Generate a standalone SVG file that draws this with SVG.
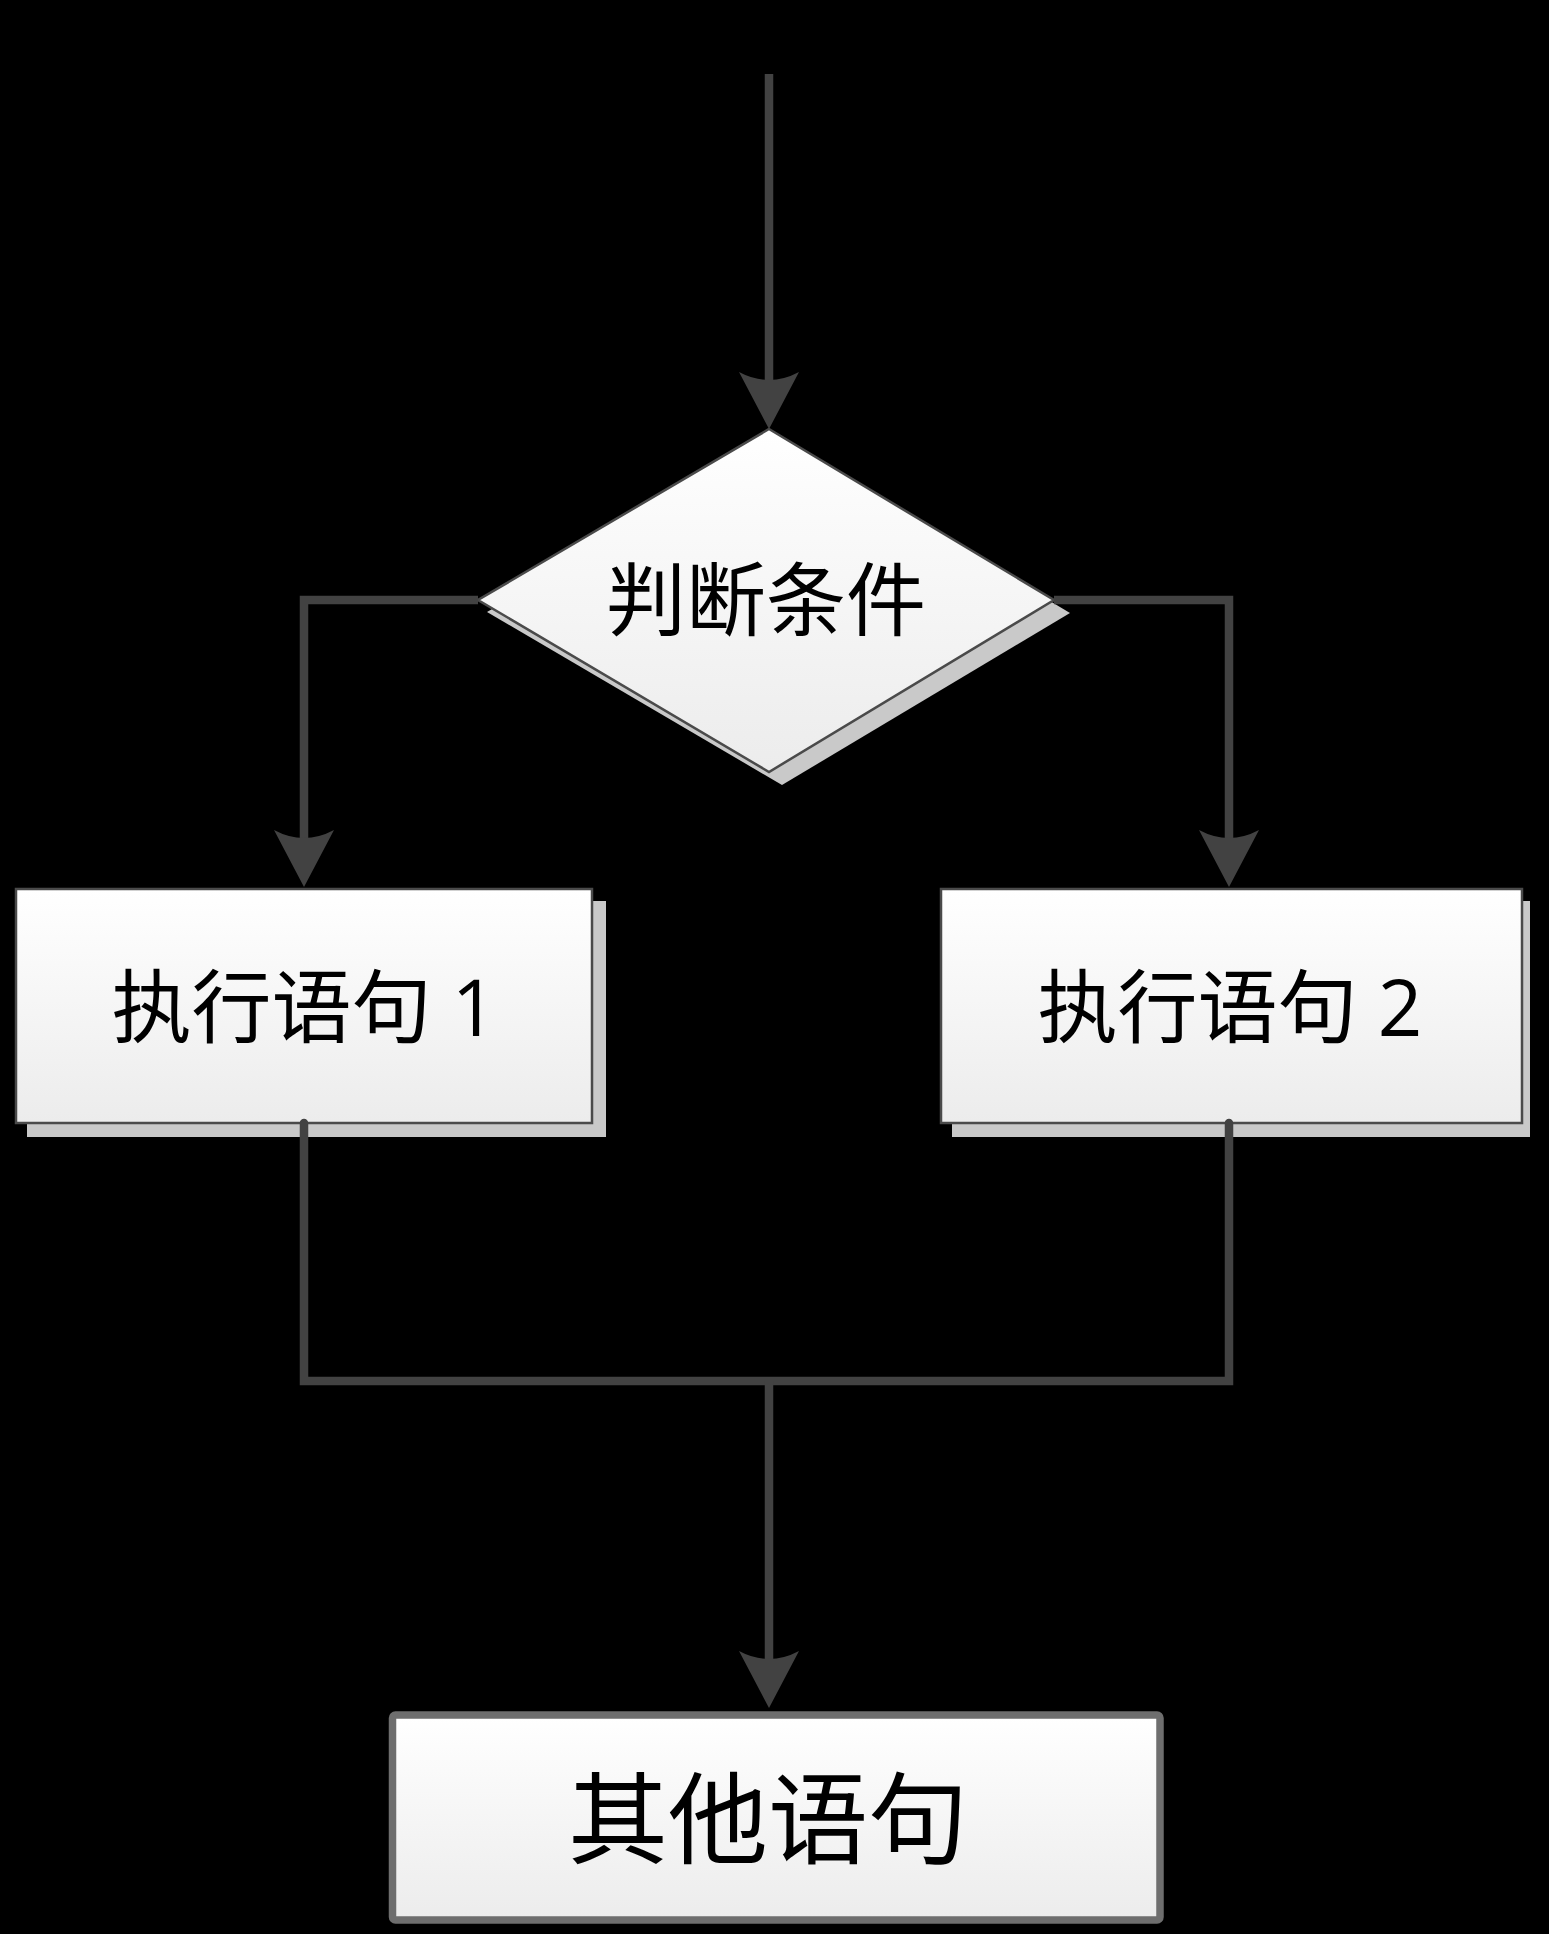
<svg xmlns="http://www.w3.org/2000/svg" width="1549" height="1934" viewBox="0 0 1549 1934">
  <style>
    .wire { fill: none; stroke: #424242; stroke-width: 8.5; }
    .shadow { fill: #c9c9c9; }
    .box { fill: url(#paper); stroke: #4a4a4a; stroke-width: 2.5; }
    .label { font-family: "Noto Sans CJK SC", "Noto Sans", sans-serif; fill: #000; }
    .digit { font-family: "Open Sans", "Noto Sans", sans-serif; }
  </style>
  <defs>
    <linearGradient id="paper" x1="0" y1="0" x2="0" y2="1">
      <stop offset="0" stop-color="#ffffff"/>
      <stop offset="1" stop-color="#ececec"/>
    </linearGradient>
    <marker id="head" markerUnits="userSpaceOnUse" markerWidth="60" markerHeight="64" viewBox="0 -32 60 64" refX="8" refY="0" orient="auto" overflow="visible">
      <path d="M0,-30 L57,0 L0,30 Q16,0 0,-30 Z" fill="#424242"/>
    </marker>
  </defs>

  <rect width="1549" height="1934" fill="#000"/>

  <g id="condition">
    <polygon class="shadow" points="781,441 1070,613 782,785 487,612"/>
    <polygon class="box" points="769,429 1054,600 769,772 478,600"/>
    <text class="label" x="766" y="629" font-size="80" text-anchor="middle">判断条件</text>
  </g>

  <g id="branch1">
    <rect class="shadow" x="27" y="901" width="579" height="236"/>
    <rect class="box" x="16" y="889" width="576" height="234"/>
    <text class="label" x="304" y="1036" font-size="80" text-anchor="middle">执行语句<tspan class="digit" font-size="78"> 1</tspan></text>
  </g>

  <g id="branch2">
    <rect class="shadow" x="952" y="901" width="578" height="236"/>
    <rect class="box" x="941" y="889" width="581" height="234"/>
    <text class="label" x="1230" y="1036" font-size="80" text-anchor="middle">执行语句<tspan class="digit" font-size="78"> 2</tspan></text>
  </g>

  <g id="next">
    <rect x="392.5" y="1715" width="767.5" height="205" rx="3" fill="url(#paper)" stroke="#6e6e6e" stroke-width="7.5"/>
    <text class="label" x="768" y="1856" font-size="100" text-anchor="middle" fill="#333">其他语句</text>
  </g>

  <!-- connectors are drawn last so the rounded starts sit over the box edges -->
  <g id="connectors">
    <path class="wire" d="M769,74 V380" marker-end="url(#head)"/>
    <path class="wire" d="M478,600 H304 V838" marker-end="url(#head)"/>
    <path class="wire" d="M1054,600 H1229 V838" marker-end="url(#head)"/>
    <path class="wire" d="M304,1123 V1381 H1229 V1123" stroke-linecap="round"/>
    <path class="wire" d="M769,1381 V1659" marker-end="url(#head)"/>
  </g>
</svg>
